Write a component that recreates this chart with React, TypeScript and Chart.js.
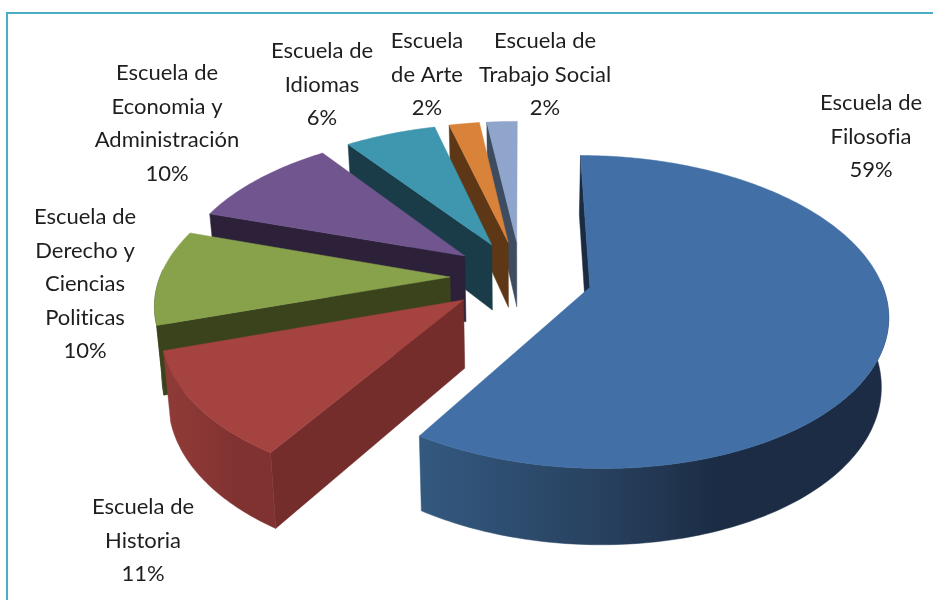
import React, { useEffect, useRef } from "react";
import { Chart, registerables } from "chart.js";

Chart.register(...registerables);

const categories = [
  "Escuela de Filosofia",
  "Escuela de Historia",
  "Escuela de Derecho y Ciencias Politicas",
  "Escuela de Economia y Administración",
  "Escuela de Idiomas",
  "Escuela de Arte",
  "Escuela de Trabajo Social",
];
const labelLines = [
  ["Escuela de", "Filosofia"],
  ["Escuela de", "Historia"],
  ["Escuela de", "Derecho y", "Ciencias", "Politicas"],
  ["Escuela de", "Economia y", "Administración"],
  ["Escuela de", "Idiomas"],
  ["Escuela", "de Arte"],
  ["Escuela de", "Trabajo Social"],
];
const percentages = [59, 11, 10, 10, 6, 2, 2];

const topColors = ["#4270A6", "#A54340", "#88A24B", "#70558F", "#3E96AF", "#D8823A", "#8FA5CC"];
const cutColors = ["#1A2B42", "#742D2B", "#3A431C", "#2D213A", "#193C48", "#5E3716", "#3E4C60"];
const rimStops: string[][] = [
  ["#33597F", "#28415F", "#1B2C44"],
  ["#8E3A37", "#873634", "#7F3230"],
  ["#3A431C", "#3A431C", "#3A431C"],
  ["#2D213A", "#2D213A", "#2D213A"],
  ["#193C48", "#193C48", "#193C48"],
  ["#5E3716", "#5E3716", "#5E3716"],
  ["#3E4C60", "#3E4C60", "#3E4C60"],
];

// label layout: centre x and first-line centre y
const labelCenters = [
  [871, 103],
  [143, 507],
  [85, 217],
  [167, 73],
  [322, 51],
  [427, 41],
  [545, 41],
];

// projection of the pie plane onto the page
const VIEW = { cx: 521, cy: 277, k: 0.515, p: 0.000538, radius: 290, lineHeight: 33.5 };

type P = [number, number];

function project(u: number, v: number, lower: boolean): P {
  const s = 1 / (1 - VIEW.p * v);
  const x = VIEW.cx + u * s;
  const y = VIEW.cy + VIEW.k * v * s;
  if (!lower) return [x, y];
  return [VIEW.cx + (x - VIEW.cx) * 0.98, y + 67 + 0.03 * v];
}

function poly(ctx: CanvasRenderingContext2D, pts: P[], fill: string | CanvasGradient) {
  ctx.beginPath();
  pts.forEach((p, i) => (i ? ctx.lineTo(p[0], p[1]) : ctx.moveTo(p[0], p[1])));
  ctx.closePath();
  ctx.fillStyle = fill;
  ctx.fill();
  ctx.strokeStyle = fill;
  ctx.lineWidth = 0.5;
  ctx.stroke();
}

const pie3d = {
  id: "pie3d",
  beforeDraw(chart: any) {
    const { ctx, width, height } = chart;
    ctx.save();
    ctx.fillStyle = "#FFFFFF";
    ctx.fillRect(0, 0, width, height);
    ctx.fillStyle = "#4BACC6";
    ctx.fillRect(6, 12, width - 6, 2);
    ctx.fillRect(6, 12, 2, height - 12);
    ctx.restore();
  },
  beforeDatasetsDraw(chart: any) {
    const { ctx } = chart;
    const arcs = chart.getDatasetMeta(0).data;
    ctx.save();
    for (let i = arcs.length - 1; i >= 0; i--) {
      const el = arcs[i];
      const a0 = el.startAngle;
      const a1 = el.endAngle;
      const mid = (a0 + a1) / 2;
      const e = el.options.offset;
      const ax = e * Math.cos(mid);
      const ay = e * Math.sin(mid);
      const steps = Math.max(8, Math.ceil((a1 - a0) * 60));
      const top: P[] = [];
      const botFront: P[] = [];
      const topFront: P[] = [];
      for (let n = 0; n <= steps; n++) {
        const a = a0 + ((a1 - a0) * n) / steps;
        const u = ax + VIEW.radius * Math.cos(a);
        const v = ay + VIEW.radius * Math.sin(a);
        top.push(project(u, v, false));
        if (Math.sin(a) > -0.05) {
          topFront.push(project(u, v, false));
          botFront.push(project(u, v, true));
        }
      }
      const apexT = project(ax, ay, false);
      const apexB = project(ax, ay, true);
      const edge = (a: number): P[] => {
        const u = ax + VIEW.radius * Math.cos(a);
        const v = ay + VIEW.radius * Math.sin(a);
        return [apexT, project(u, v, false), project(u, v, true), apexB];
      };
      // visible cut faces only
      if (Math.cos(a0) < 0.001) poly(ctx, edge(a0), cutColors[i]);
      if (Math.cos(a1) > 0.001) poly(ctx, edge(a1), cutColors[i]);
      // front-facing rim
      if (botFront.length > 1) {
        const xs = botFront.map((p) => p[0]);
        const xMin = Math.min(...xs);
        const xMax = Math.max(...xs);
        const g = ctx.createLinearGradient(xMin, 0, xMin + (xMax - xMin) * 0.65, 0);
        g.addColorStop(0, rimStops[i][0]);
        g.addColorStop(0.6, rimStops[i][1]);
        g.addColorStop(1, rimStops[i][2]);
        poly(ctx, [...topFront, ...botFront.slice().reverse()], g);
      }
      // upper face
      poly(ctx, [apexT, ...top], topColors[i]);
    }
    ctx.restore();
    return false;
  },
  afterDraw(chart: any) {
    const { ctx } = chart;
    ctx.save();
    ctx.font = '22px Lato, "Open Sans", sans-serif';
    (ctx as any).textRendering = "optimizeSpeed";
    ctx.fillStyle = "#1E1E1E";
    ctx.textAlign = "center";
    ctx.textBaseline = "middle";
    chart.data.datasets[0].data.forEach((val: number, i: number) => {
      const lines = [...labelLines[i], `${val}%`];
      lines.forEach((t, n) => {
        ctx.fillText(t, labelCenters[i][0], labelCenters[i][1] + n * VIEW.lineHeight);
      });
    });
    ctx.restore();
  },
};

export default function App() {
  const ref = useRef<HTMLCanvasElement>(null);
  useEffect(() => {
    const chart = new Chart(ref.current as HTMLCanvasElement, {
      type: "pie",
      data: {
        labels: categories,
        datasets: [
          {
            data: percentages,
            backgroundColor: topColors,
            borderWidth: 0,
            offset: 71,
          },
        ],
      },
      options: {
        animation: false,
        responsive: false,
        plugins: { legend: { display: false }, tooltip: { enabled: false } },
      },
      plugins: [pie3d],
    } as any);
    return () => chart.destroy();
  }, []);
  return (
    <div style={{ position: "fixed", left: 0, top: 0, width: 933, height: 600, background: "#fff" }}>
      <canvas ref={ref} width={933} height={600} style={{ display: "block" }} />
    </div>
  );
}
